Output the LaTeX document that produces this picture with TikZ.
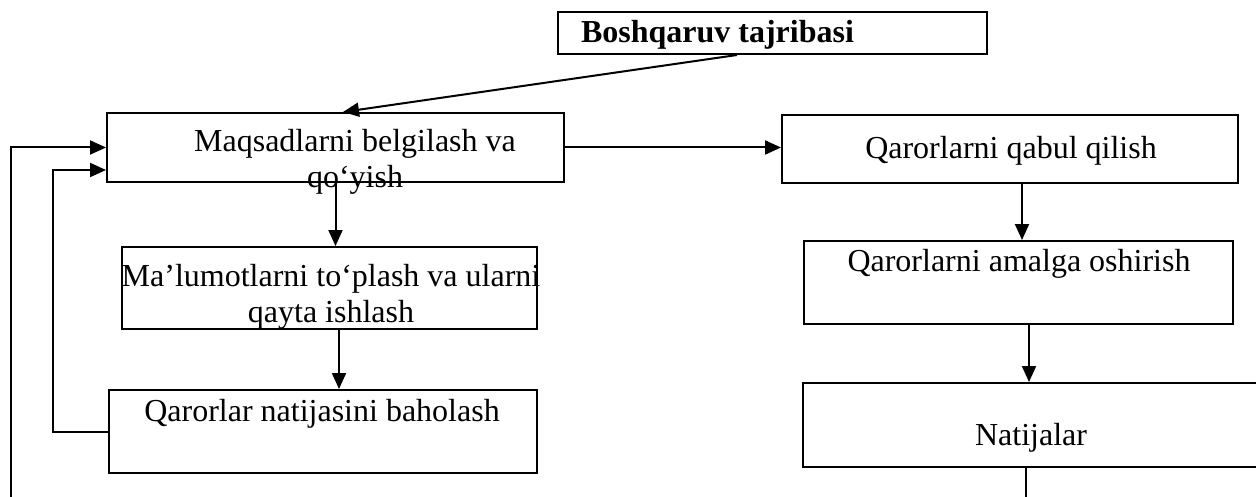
\documentclass[tikz,border=0pt]{standalone}
\usepackage{fontspec}
\setmainfont{Liberation Serif}
\usetikzlibrary{arrows.meta,fit}
\begin{document}
\begin{tikzpicture}[x=0.5pt, y=-0.5pt, line width=1pt, >={Triangle[length=8pt,width=7pt]},
	font=\fontsize{16}{18}\selectfont,
	box/.style={draw, rectangle, inner sep=0pt},
	txt/.style={inner sep=0pt, align=center}]
	\useasboundingbox (0,0) rectangle (1256,497);
	\clip (0,0) rectangle (1256,497);
	% boxes
	\node[box, fit={(558,12) (987,54)}] (tajriba) {};
	\node[box, fit={(107,113) (564,182)}] (maqsad) {};
	\node[box, fit={(782,115) (1238,183)}] (qabul) {};
	\node[box, fit={(122,247) (537,329)}] (malumot) {};
	\node[box, fit={(804,241) (1233,324)}] (amalga) {};
	\node[box, fit={(109,390) (537,473)}] (baholash) {};
	\node[box, fit={(803,383) (1262,467)}] (natija) {};
	% texts
	\node[txt, anchor=base west, font=\fontsize{16}{18}\selectfont\bfseries] (tajribaT) at (580,43) {Boshqaruv tajribasi};
	\node[txt, anchor=base] (maqsadT) at (355,188) {Maqsadlarni belgilash va\\qo‘yish};
	\node[txt, anchor=base] (qabulT) at (1011,159) {Qarorlarni qabul qilish};
	\node[txt, anchor=base] (malumotT) at (331,322) {Ma’lumotlarni to‘plash va ularni\\qayta ishlash};
	\node[txt, anchor=base] (amalgaT) at (1019,271) {Qarorlarni amalga oshirish};
	\node[txt, anchor=base] (baholashT) at (322,421) {Qarorlar natijasini baholash};
	\node[txt, anchor=base] (natijaT) at (1031,445) {Natijalar};
	% helper points
	\coordinate (t1) at ([xshift=-17.75pt]tajriba.south);
	\coordinate (m1) at ([xshift=3.75pt]maqsad.north);
	\coordinate (m2) at ([yshift=-11.25pt]maqsad.west);
	\coordinate (l1) at ([xshift=4.75pt]malumot.south);
	\coordinate (q1) at ([xshift=6pt]qabul.south);
	\coordinate (a1) at ([xshift=5.25pt]amalga.south);
	\coordinate (inner) at (53,0);
	\coordinate (outer) at (11,500);
	\coordinate (nEnd) at (1026,500);
	% connectors
	\draw[->] (t1) -- (m1);
	\draw[->] (maqsad.east) -- (maqsad.east -| qabul.west);
	\draw[->] (maqsad.south) -- (maqsad.south |- malumot.north);
	\draw[->] (l1) -- (l1 |- baholash.north);
	\draw[->] (q1) -- (q1 |- amalga.north);
	\draw[->] (a1) -- (a1 |- natija.north);
	\draw (nEnd |- natija.south) -- (nEnd);
	\draw[->] (baholash.west) -- (baholash.west -| inner) |- (m2);
	\draw[->] (outer) |- (maqsad.west);
\end{tikzpicture}
\end{document}
